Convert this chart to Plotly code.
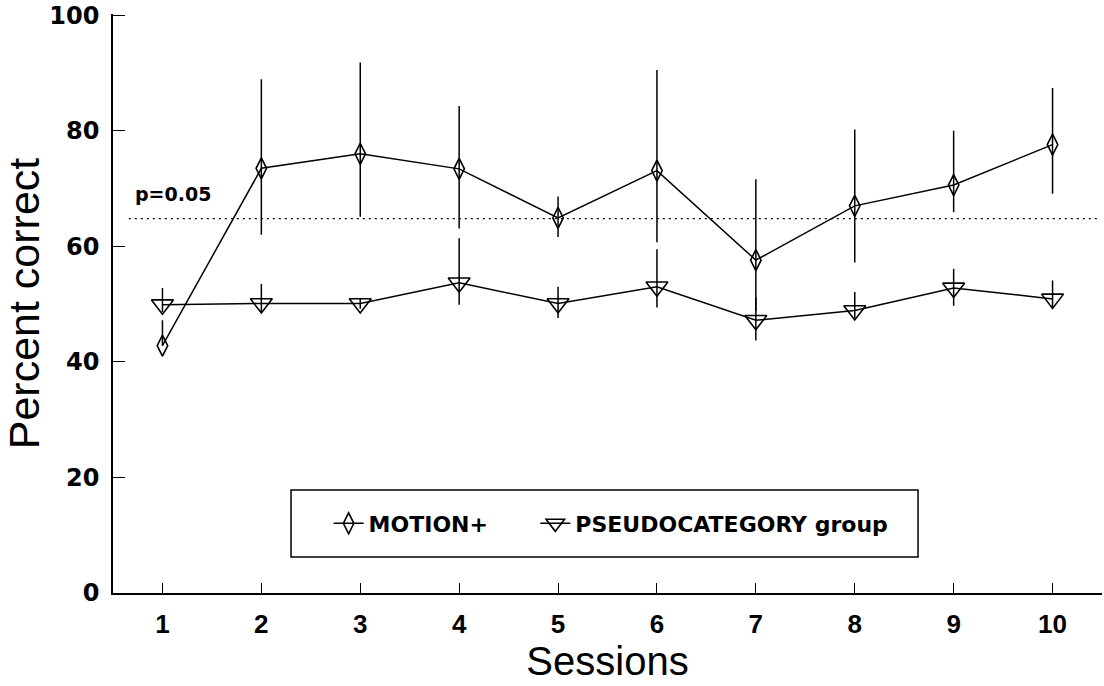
import plotly.graph_objects as go

# ---- data ----
sessions = [1, 2, 3, 4, 5, 6, 7, 8, 9, 10]

motion_mean = [42.8, 73.5, 76.0, 73.4, 64.9, 73.1, 57.6, 67.0, 70.6, 77.6]
motion_upper = [47.2, 88.9, 91.8, 84.3, 68.6, 90.5, 71.6, 80.2, 80.0, 87.4]
motion_lower = [42.8, 62.0, 65.1, 63.1, 61.6, 60.7, 48.8, 57.2, 65.9, 69.1]

pseudo_mean = [49.9, 50.1, 50.1, 53.7, 50.1, 53.0, 47.2, 48.9, 52.8, 50.9]
pseudo_upper = [52.8, 53.5, 51.0, 61.4, 53.0, 59.5, 51.2, 52.1, 56.1, 54.1]
pseudo_lower = [48.6, 48.6, 49.2, 49.9, 47.6, 49.4, 43.7, 47.5, 49.7, 49.4]

p_threshold = 64.8
threshold_x = [0.66, 10.48]
threshold_label = "p=0.05"

y_ticks = [0, 20, 40, 60, 80, 100]

series_names = ["MOTION+", "PSEUDOCATEGORY group"]


def plus(u, m):
    return [a - b for a, b in zip(u, m)]


def minus(m, l):
    return [a - b for a, b in zip(m, l)]


fig = go.Figure()

fig.add_trace(go.Scatter(
    x=threshold_x, y=[p_threshold, p_threshold], mode="lines",
    line=dict(color="black", width=1.3, dash="2px,4px"),
    showlegend=False, hoverinfo="skip"))

fig.add_trace(go.Scatter(
    x=sessions, y=motion_mean, name=series_names[0], mode="lines+markers",
    line=dict(color="black", width=1.5),
    marker=dict(symbol="diamond-tall-open", size=15, color="black",
                line=dict(color="black", width=1.6)),
    error_y=dict(type="data", symmetric=False,
                 array=plus(motion_upper, motion_mean),
                 arrayminus=minus(motion_mean, motion_lower),
                 color="black", thickness=1.5, width=0),
    legend="legend"))

fig.add_trace(go.Scatter(
    x=sessions, y=pseudo_mean, name=series_names[1], mode="lines+markers",
    line=dict(color="black", width=1.5),
    marker=dict(symbol="triangle-down-open", size=19, color="black",
                line=dict(color="black", width=1.6)),
    error_y=dict(type="data", symmetric=False,
                 array=plus(pseudo_upper, pseudo_mean),
                 arrayminus=minus(pseudo_mean, pseudo_lower),
                 color="black", thickness=1.5, width=0),
    legend="legend2"))

fig.add_annotation(x=0.70, y=69.0, xref="x", yref="y", text=threshold_label,
                   showarrow=False, xanchor="left", yanchor="middle",
                   font=dict(family="DejaVu Sans", size=19, color="black", weight="bold"))

# legend frame
fig.add_shape(type="rect", xref="paper", yref="paper",
              x0=0.180, x1=0.814, y0=0.062, y1=0.178,
              line=dict(color="black", width=1.5), fillcolor="rgba(0,0,0,0)")

legend_font = dict(family="DejaVu Sans", size=22, color="black", weight="bold")

fig.update_layout(
    width=1104, height=686,
    margin=dict(l=113, r=2, t=12, b=93),
    paper_bgcolor="white", plot_bgcolor="white",
    font=dict(family="Liberation Sans, Arial", color="black"),
    legend=dict(orientation="h", x=0.218, y=0.120, xanchor="left", yanchor="middle",
                bgcolor="rgba(0,0,0,0)", borderwidth=0, font=legend_font),
    legend2=dict(orientation="h", x=0.427, y=0.120, xanchor="left", yanchor="middle",
                 bgcolor="rgba(0,0,0,0)", borderwidth=0, font=legend_font),
    showlegend=True,
)

fig.update_xaxes(
    range=[0.5, 10.5], tickvals=sessions,
    ticktext=[str(s) for s in sessions],
    ticks="inside", ticklen=10, tickwidth=1.3, tickcolor="black",
    showline=True, linecolor="black", linewidth=1.5,
    showgrid=False, zeroline=False, ticklabelstandoff=7,
    tickfont=dict(family="Liberation Sans, Arial", size=26, color="black", weight="bold"),
    title=dict(text="Sessions", standoff=6,
               font=dict(family="Liberation Sans, Arial", size=40, color="black")),
)

fig.update_yaxes(
    range=[0, 100.2], tickvals=y_ticks,
    ticktext=[str(v) for v in y_ticks],
    ticks="inside", ticklen=12, tickwidth=1.3, tickcolor="black",
    showline=True, linecolor="black", linewidth=1.5,
    showgrid=False, zeroline=False, ticklabelstandoff=7,
    ticklabeloverflow="allow",
    tickfont=dict(family="DejaVu Sans", size=24, color="black", weight="bold"),
    title=dict(text="Percent correct", standoff=0,
               font=dict(family="Liberation Sans, Arial", size=43, color="black")),
)

fig.write_html("out.html")
